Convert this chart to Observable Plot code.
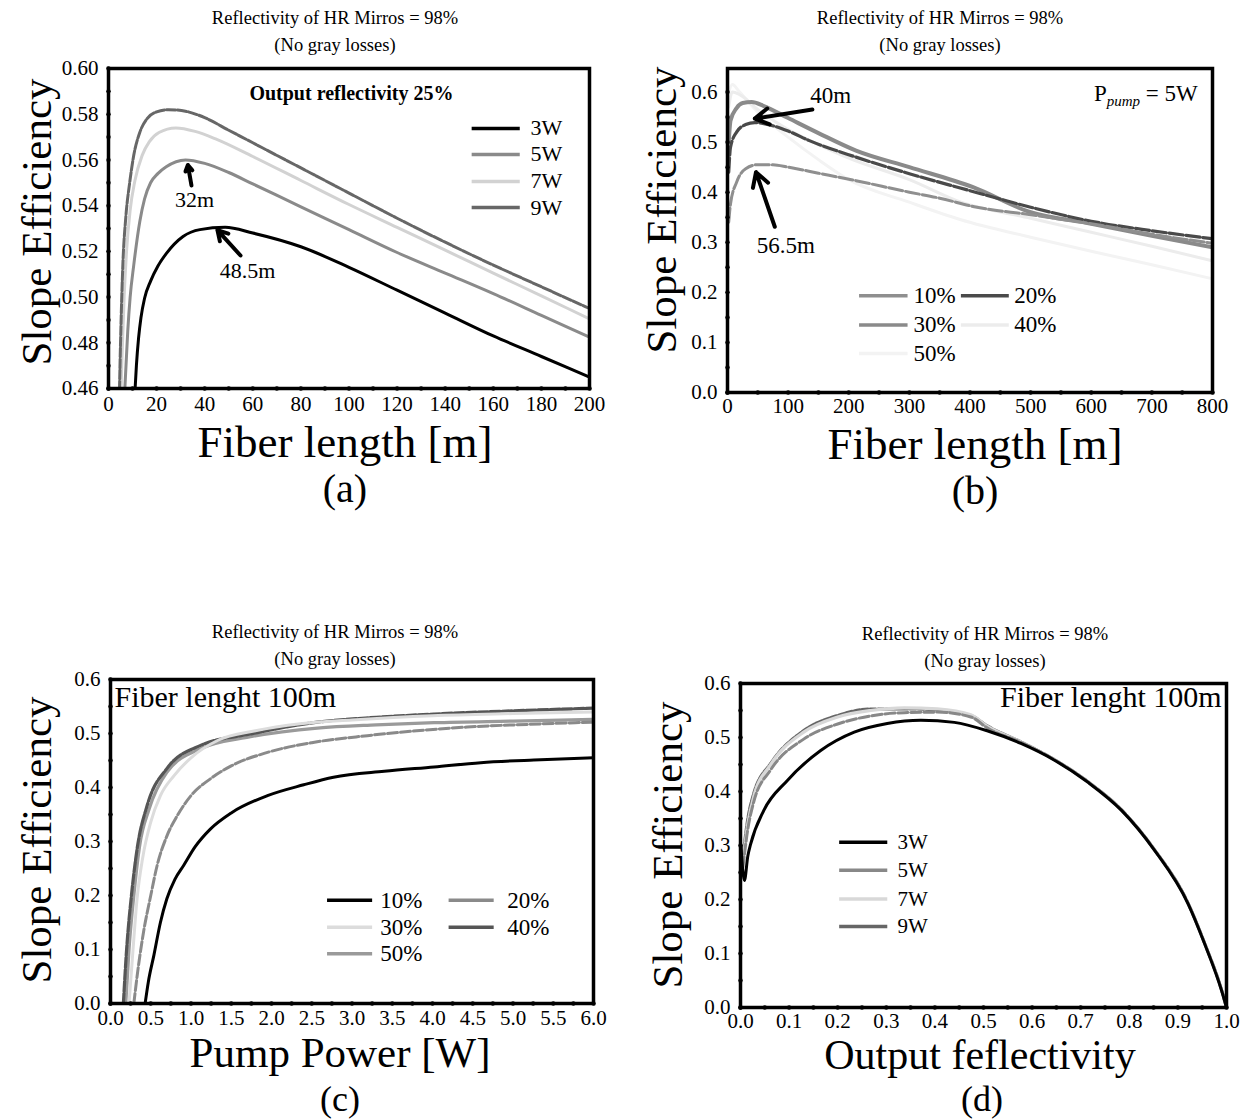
<!DOCTYPE html>
<html><head><meta charset="utf-8">
<script src="https://cdn.jsdelivr.net/npm/d3@7"></script>
<script src="https://cdn.jsdelivr.net/npm/@observablehq/plot@0.6"></script>
<style>
body{margin:0;background:#fff;}
#root{position:relative;width:1258px;height:1119px;background:#fff;font-family:"Liberation Serif","Times New Roman",serif;color:#000;overflow:hidden}
.t{position:absolute;white-space:nowrap;transform:translate(-50%,-50%);line-height:0.9}
.yl{position:absolute;white-space:nowrap;line-height:0.9;transform:translate(-50%,-50%) rotate(-90deg)}
</style></head><body><div id="root"></div>
<script>
// ---------------- Panel (a): slope efficiency vs fiber length, output reflectivity 25% ----------------
const aSeriesNames = ["3W", "5W", "7W", "9W"];
const a3W = [[10.8,0.455],[11.6,0.47],[12.5,0.482],[13.5,0.491],[15,0.4995],[17.5,0.507],[20.5,0.5135],[24,0.519],[31,0.5265],[38,0.5295],[48.5,0.5305],[60,0.528],[80,0.522],[100,0.513],[120,0.503],[140,0.493],[160,0.483],[180,0.474],[200,0.465]];
const a5W = [[6,0.44],[6.8,0.46],[8,0.485],[9,0.5],[10.5,0.514],[13,0.533],[15,0.543],[17.5,0.55],[20.5,0.554],[24,0.557],[32,0.56],[40,0.5585],[50,0.5545],[60,0.5495],[80,0.5395],[100,0.5295],[120,0.5195],[140,0.5105],[160,0.5015],[180,0.492],[200,0.4825]];
const a7W = [[4.8,0.44],[5.5,0.47],[6.5,0.5],[7.5,0.52],[9,0.538],[11,0.551],[14,0.562],[17,0.568],[21,0.572],[28,0.574],[36,0.5725],[45,0.569],[60,0.5615],[80,0.551],[100,0.5405],[120,0.5305],[140,0.5205],[160,0.5105],[180,0.5005],[200,0.4905]];
const a9W = [[4.2,0.44],[5,0.48],[6,0.515],[7.2,0.535],[8.8,0.55],[10.5,0.562],[13,0.572],[16,0.578],[20,0.581],[25,0.582],[32,0.5813],[40,0.5785],[50,0.573],[60,0.5675],[80,0.5565],[100,0.5455],[120,0.5345],[140,0.524],[160,0.514],[180,0.5045],[200,0.495]];
const aXTicks = [0,20,40,60,80,100,120,140,160,180,200];
const aYTicks = [0.46,0.48,0.50,0.52,0.54,0.56,0.58,0.60];
const aNotes = [{label:"32m", x:35.8, y:0.5423, ax1:34.5, ay1:0.5488, ax2:33, ay2:0.5578},
                {label:"48.5m", x:57.8, y:0.5116, ax1:54.9, ay1:0.5182, ax2:45.3, ay2:0.5293}];

// ---------------- Panel (b): slope efficiency vs fiber length, Ppump = 5W ----------------
const bSeriesNames = ["10%", "20%", "30%", "40%", "50%"];
const b10 = [[2,0.34],[5,0.377],[15,0.42],[30,0.447],[50,0.455],[75,0.455],[100,0.45],[150,0.438],[212,0.423],[300,0.4],[350,0.388],[407,0.371],[500,0.355],[605,0.336],[700,0.316],[800,0.298]];
const b20 = [[2,0.44],[5,0.49],[15,0.52],[30,0.535],[45,0.539],[60,0.537],[100,0.522],[135,0.503],[212,0.47],[300,0.437],[400,0.403],[500,0.37],[600,0.342],[700,0.323],[800,0.307]];
const b30 = [[2,0.5],[5,0.543],[15,0.568],[25,0.578],[40,0.58],[60,0.572],[100,0.548],[150,0.518],[212,0.483],[300,0.45],[405,0.41],[500,0.36],[600,0.337],[700,0.313],[800,0.29]];
const b40 = [[2,0.57],[8,0.6],[20,0.595],[50,0.565],[100,0.525],[150,0.495],[200,0.468],[300,0.425],[385,0.38],[500,0.348],[600,0.32],[700,0.292],[800,0.263]];
const b50 = [[2,0.6],[8,0.615],[20,0.6],[50,0.56],[100,0.51],[150,0.465],[200,0.425],[300,0.38],[385,0.345],[500,0.31],[600,0.282],[700,0.255],[800,0.227]];
const bXTicks = [0,100,200,300,400,500,600,700,800];
const bYTicks = [0,0.1,0.2,0.3,0.4,0.5,0.6];
const bNotes = [{label:"40m", x:170, y:0.593, ax1:140, ay1:0.565, ax2:45, ay2:0.547},
                {label:"56.5m", x:96, y:0.293, ax1:78, ay1:0.331, ax2:47, ay2:0.44}];

// ---------------- Panel (c): slope efficiency vs pump power, fiber 100 m ----------------
const cSeriesNames = ["10%", "20%", "30%", "40%", "50%"];
const c10 = [[0.43,0],[0.47,0.04],[0.54,0.09],[0.62,0.15],[0.7,0.194],[0.8,0.23],[0.91,0.256],[1.05,0.29],[1.24,0.323],[1.5,0.353],[1.95,0.385],[2.4,0.405],[2.77,0.419],[3.4,0.43],[4.02,0.438],[4.6,0.446],[5.26,0.451],[6.0,0.455]];
const c20 = [[0.29,0],[0.33,0.05],[0.41,0.132],[0.5,0.2],[0.58,0.256],[0.7,0.31],[0.83,0.348],[1.0,0.385],[1.24,0.416],[1.5,0.44],[1.95,0.465],[2.5,0.483],[3.19,0.496],[3.8,0.505],[4.43,0.512],[5.2,0.517],[6.0,0.521]];
const c30 = [[0.23,0],[0.27,0.08],[0.33,0.194],[0.4,0.27],[0.5,0.336],[0.62,0.385],[0.79,0.422],[1.0,0.455],[1.33,0.487],[1.8,0.505],[2.36,0.518],[3.0,0.525],[4.0,0.533],[5.0,0.537],[6.0,0.54]];
const c40 = [[0.16,0],[0.2,0.1],[0.26,0.2],[0.33,0.286],[0.456,0.367],[0.7,0.435],[1.12,0.478],[1.74,0.499],[2.57,0.521],[3.3,0.53],[4.02,0.536],[5.0,0.542],[6.0,0.547]];
const c50 = [[0.19,0],[0.23,0.1],[0.29,0.2],[0.36,0.29],[0.48,0.36],[0.7,0.428],[1.12,0.472],[1.74,0.494],[2.57,0.51],[3.3,0.516],[4.02,0.52],[5.0,0.523],[6.0,0.526]];
const cXTicks = [0,0.5,1,1.5,2,2.5,3,3.5,4,4.5,5,5.5,6];
const cYTicks = [0,0.1,0.2,0.3,0.4,0.5,0.6];

// ---------------- Panel (d): slope efficiency vs output reflectivity, fiber 100 m ----------------
const dSeriesNames = ["3W", "5W", "7W", "9W"];
const d3W = [[0.001,0.3],[0.008,0.235],[0.015,0.28],[0.021,0.303],[0.048,0.365],[0.096,0.42],[0.165,0.476],[0.234,0.51],[0.302,0.526],[0.371,0.532],[0.44,0.528],[0.509,0.512],[0.577,0.489],[0.646,0.458],[0.715,0.417],[0.784,0.365],[0.852,0.291],[0.921,0.192],[0.955,0.118],[0.99,0.031],[1.0,0.0]];
const d5W = [[0.005,0.26],[0.015,0.33],[0.027,0.38],[0.062,0.44],[0.13,0.497],[0.2,0.525],[0.268,0.54],[0.337,0.546],[0.405,0.547],[0.474,0.538],[0.509,0.517],[0.577,0.491],[0.646,0.459],[0.715,0.418],[0.784,0.366],[0.852,0.292],[0.921,0.193],[0.955,0.119],[0.99,0.032],[1.0,0.0]];
const d7W = [[0.005,0.27],[0.015,0.34],[0.027,0.39],[0.062,0.45],[0.13,0.51],[0.2,0.538],[0.268,0.55],[0.337,0.555],[0.405,0.553],[0.474,0.542],[0.509,0.52],[0.577,0.492],[0.646,0.459],[0.715,0.418],[0.784,0.366],[0.852,0.292],[0.921,0.193],[0.955,0.119],[0.99,0.032],[1.0,0.0]];
const d9W = [[0.005,0.28],[0.015,0.35],[0.027,0.396],[0.062,0.452],[0.13,0.513],[0.2,0.541],[0.268,0.553],[0.337,0.553],[0.405,0.551],[0.474,0.541],[0.509,0.521],[0.577,0.492],[0.646,0.459],[0.715,0.418],[0.784,0.366],[0.852,0.292],[0.921,0.193],[0.955,0.119],[0.99,0.032],[1.0,0.0]];
const dXTicks = [0,0.1,0.2,0.3,0.4,0.5,0.6,0.7,0.8,0.9,1.0];
const dYTicks = [0,0.1,0.2,0.3,0.4,0.5,0.6];

// ---------------- Shared text ----------------
const titleLine1 = "Reflectivity of HR Mirros = 98%";
const titleLine2 = "(No gray losses)";
const yLabel = "Slope Efficiency";

const FONT = '"Liberation Serif","Times New Roman",serif';
const root = document.getElementById("root");
const rows = (pairs) => pairs.map(([x, y]) => ({x, y}));

function addText(str, x, y, size, opts = {}) {
  const d = document.createElement("div");
  d.className = opts.rot ? "yl" : "t";
  d.textContent = str;
  d.style.left = x + "px"; d.style.top = y + "px";
  d.style.fontSize = size + "px";
  if (opts.bold) d.style.fontWeight = "bold";
  root.appendChild(d);
}

function edgeDots(xMinor, yMinor, xDom, yDom) {
  return [
    Plot.dot(xMinor, {x: d => d, y: () => yDom[0], r: 2.2, fill: "black"}),
    Plot.dot(yMinor, {x: () => xDom[0], y: d => d, r: 2.2, fill: "black"}),
    Plot.frame({stroke: "black", strokeWidth: 3.5})
  ];
}

function legendMarks(items, fontSize) {
  return [
    Plot.link(items, {x1: "x1", x2: "x2", y1: "y", y2: "y", stroke: d => d.color, strokeWidth: d => d.width, strokeDasharray: d => d.dash || null}),
    Plot.text(items, {x: "tx", y: "y", text: "label", textAnchor: "start", fontSize, fill: "black"})
  ];
}

function place(chart, left, top) {
  chart.style.position = "absolute";
  chart.style.left = left + "px";
  chart.style.top = top + "px";
  chart.style.background = "transparent";
  chart.style.overflow = "visible";
  root.appendChild(chart);
  return chart;
}

const baseStyle = {fontFamily: FONT, fontSize: "21px", color: "black", background: "transparent", overflow: "visible"};

// ---------- Panel (a) ----------
{
  const xDom = [0, 200], yDom = [0.46, 0.60];
  const styles = [
    {data: a3W, color: "#000000", width: 3, dash: null},
    {data: a5W, color: "#8a8a8a", width: 3, dash: null},
    {data: a7W, color: "#d2d2d2", width: 3, dash: null},
    {data: a9W, color: "#676767", width: 3, dash: "9,2"}
  ];
  const legY = [0.5738, 0.5624, 0.5506, 0.5392];
  const leg = styles.map((s, i) => ({label: aSeriesNames[i], x1: 151, x2: 171, tx: 175.5, y: legY[i], color: s.color, width: 3.5, dash: s.dash}));
  const chart = Plot.plot({
    width: 629, height: 400, marginLeft: 108, marginRight: 40, marginTop: 18, marginBottom: 62,
    style: baseStyle,
    x: {domain: xDom, ticks: aXTicks, tickSize: 0, tickPadding: 8, label: null, tickFormat: d3.format("d")},
    y: {domain: yDom, ticks: aYTicks, tickSize: 0, tickPadding: 10, label: null, tickFormat: d3.format(".2f")},
    marks: [
      ...styles.map(s => Plot.line(rows(s.data), {x: "x", y: "y", stroke: s.color, strokeWidth: s.width, strokeDasharray: s.dash, curve: "monotone-x", clip: true})),
      ...legendMarks(leg, 22),
      Plot.text(["Output reflectivity 25%"], {x: () => 101, y: () => 0.589, text: d => d, fontSize: 20, fontWeight: "bold", fill: "black"}),
      Plot.arrow(aNotes, {x1: "ax1", y1: "ay1", x2: "ax2", y2: "ay2", stroke: "black", strokeWidth: 4, headLength: 5}),
      Plot.text(aNotes, {x: "x", y: "y", text: "label", fontSize: 22, fill: "black"}),
      ...edgeDots(d3.range(0, 201, 10), d3.range(0.46, 0.6001, 0.01), xDom, yDom)
    ]
  });
  place(chart, 0, 50);
  addText(titleLine1, 335, 18, 18.5);
  addText(titleLine2, 335, 45, 18.5);
  addText(yLabel, 37, 222, 43, {rot: true});
  addText("Fiber length [m]", 345, 442, 45);
  addText("(a)", 345, 489, 40);
}

// ---------- Panel (b) ----------
{
  const xDom = [0, 800], yDom = [0, 0.647];
  const styles = [
    {data: b10, color: "#8f8f8f", width: 3, dash: "14,3"},
    {data: b20, color: "#4a4a4a", width: 3.2, dash: "14,3"},
    {data: b30, color: "#8a8a8a", width: 4, dash: null},
    {data: b40, color: "#ececec", width: 3, dash: null},
    {data: b50, color: "#f3f3f3", width: 3, dash: null}
  ];
  const legPos = [
    {x1: 217, x2: 297, tx: 307, y: 0.193},
    {x1: 385, x2: 464, tx: 473, y: 0.193},
    {x1: 217, x2: 297, tx: 307, y: 0.135},
    {x1: 385, x2: 464, tx: 473, y: 0.135},
    {x1: 217, x2: 297, tx: 307, y: 0.078}
  ];
  const leg = styles.map((s, i) => ({label: bSeriesNames[i], ...legPos[i], color: s.color, width: 3.5, dash: null}));
  const chart = Plot.plot({
    width: 629, height: 400, marginLeft: 98, marginRight: 46, marginTop: 18, marginBottom: 58,
    style: baseStyle,
    x: {domain: xDom, ticks: bXTicks, tickSize: 0, tickPadding: 6, label: null, tickFormat: d3.format("d")},
    y: {domain: yDom, ticks: bYTicks, tickSize: 0, tickPadding: 10, label: null, tickFormat: d3.format(".1f")},
    marks: [
      ...styles.slice().reverse().map(s => Plot.line(rows(s.data), {x: "x", y: "y", stroke: s.color, strokeWidth: s.width, strokeDasharray: s.dash, curve: "monotone-x", clip: true})),
      ...legendMarks(leg, 23),
      Plot.text(["Ppump = 5W"], {x: () => 690, y: () => 0.597, text: d => d, fontSize: 23, fill: "black"}),
      Plot.arrow(bNotes, {x1: "ax1", y1: "ay1", x2: "ax2", y2: "ay2", stroke: "black", strokeWidth: 4, headLength: 6}),
      Plot.text(bNotes, {x: "x", y: "y", text: "label", fontSize: 23, fill: "black"}),
      ...edgeDots(d3.range(0, 801, 50), d3.range(0, 0.6001, 0.05), xDom, yDom)
    ]
  });
  chart.querySelectorAll("text").forEach(t => {
    if (t.textContent === "Ppump = 5W") {
      t.innerHTML = 'P<tspan font-style="italic" font-size="15" dy="5">pump</tspan><tspan dy="-5"> = 5W</tspan>';
    }
  });
  place(chart, 629, 50);
  addText(titleLine1, 940, 18, 18.5);
  addText(titleLine2, 940, 45, 18.5);
  addText(yLabel, 662, 210, 43, {rot: true});
  addText("Fiber length [m]", 975, 444, 45);
  addText("(b)", 975, 491, 40);
}

// ---------- Panel (c) ----------
{
  const xDom = [0, 6], yDom = [0, 0.6];
  const styles = [
    {data: c10, color: "#000000", width: 3, dash: null},
    {data: c20, color: "#8a8a8a", width: 3, dash: "10,3"},
    {data: c30, color: "#dcdcdc", width: 3, dash: null},
    {data: c40, color: "#555555", width: 3.2, dash: "10,2"},
    {data: c50, color: "#9a9a9a", width: 3.2, dash: null}
  ];
  const legPos = [
    {x1: 2.69, x2: 3.25, tx: 3.35, y: 0.191},
    {x1: 4.2, x2: 4.76, tx: 4.93, y: 0.191},
    {x1: 2.69, x2: 3.25, tx: 3.35, y: 0.141},
    {x1: 4.2, x2: 4.76, tx: 4.93, y: 0.141},
    {x1: 2.69, x2: 3.25, tx: 3.35, y: 0.092}
  ];
  const leg = styles.map((s, i) => ({label: cSeriesNames[i], ...legPos[i], color: s.color, width: 3.5, dash: s.dash}));
  const chart = Plot.plot({
    width: 629, height: 400, marginLeft: 110, marginRight: 36, marginTop: 19, marginBottom: 57,
    style: baseStyle,
    x: {domain: xDom, ticks: cXTicks, tickSize: 0, tickPadding: 7, label: null, tickFormat: d3.format(".1f")},
    y: {domain: yDom, ticks: cYTicks, tickSize: 0, tickPadding: 10, label: null, tickFormat: d3.format(".1f")},
    marks: [
      ...styles.slice().reverse().map(s => Plot.line(rows(s.data), {x: "x", y: "y", stroke: s.color, strokeWidth: s.width, strokeDasharray: s.dash, curve: "monotone-x", clip: true})),
      ...legendMarks(leg, 23),
      Plot.text(["Fiber lenght 100m"], {x: () => 0.05, y: () => 0.567, text: d => d, fontSize: 30, textAnchor: "start", fill: "black"}),
      ...edgeDots(d3.range(0, 6.001, 0.25), d3.range(0, 0.6001, 0.05), xDom, yDom)
    ]
  });
  place(chart, 0, 660);
  addText(titleLine1, 335, 632, 18.5);
  addText(titleLine2, 335, 659, 18.5);
  addText(yLabel, 37, 840, 43, {rot: true});
  addText("Pump Power [W]", 340, 1053, 43);
  addText("(c)", 340, 1099, 36);
}

// ---------- Panel (d) ----------
{
  const xDom = [0, 1], yDom = [0, 0.6];
  const styles = [
    {data: d3W, color: "#000000", width: 3, dash: null},
    {data: d5W, color: "#888888", width: 3, dash: "10,3"},
    {data: d7W, color: "#d8d8d8", width: 3.2, dash: null},
    {data: d9W, color: "#666666", width: 3, dash: "6,2"}
  ];
  const legY = [0.306, 0.254, 0.201, 0.15];
  const leg = styles.map((s, i) => ({label: dSeriesNames[i], x1: 0.203, x2: 0.302, tx: 0.323, y: legY[i], color: s.color, width: 3.5, dash: s.dash}));
  const chart = Plot.plot({
    width: 629, height: 400, marginLeft: 111, marginRight: 32, marginTop: 23, marginBottom: 53,
    style: baseStyle,
    x: {domain: xDom, ticks: dXTicks, tickSize: 0, tickPadding: 6, label: null, tickFormat: d3.format(".1f")},
    y: {domain: yDom, ticks: dYTicks, tickSize: 0, tickPadding: 10, label: null, tickFormat: d3.format(".1f")},
    marks: [
      ...styles.slice().reverse().map(s => Plot.line(rows(s.data), {x: "x", y: "y", stroke: s.color, strokeWidth: s.width, strokeDasharray: s.dash, curve: "monotone-x", clip: true})),
      ...legendMarks(leg, 21),
      Plot.text(["Fiber lenght 100m"], {x: () => 0.99, y: () => 0.575, text: d => d, fontSize: 30, textAnchor: "end", fill: "black"}),
      ...edgeDots(d3.range(0, 1.0001, 0.05), d3.range(0, 0.6001, 0.05), xDom, yDom)
    ]
  });
  place(chart, 629, 660);
  addText(titleLine1, 985, 634, 18.5);
  addText(titleLine2, 985, 661, 18.5);
  addText(yLabel, 668, 845, 43, {rot: true});
  addText("Output feflectivity", 980, 1056, 42);
  addText("(d)", 982, 1099, 36);
}
</script></body></html>
